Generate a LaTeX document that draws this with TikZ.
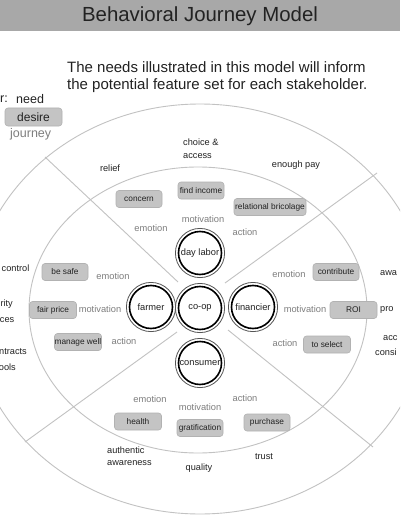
\documentclass[tikz,border=0pt]{standalone}
\usepackage{fontspec}
\setmainfont{Liberation Sans}
\definecolor{titlegray}{HTML}{A8A8A8}
\definecolor{linegray}{HTML}{C2C2C2}
\definecolor{boxfill}{HTML}{C4C4C4}
\definecolor{boxdraw}{HTML}{B2B2B2}
\definecolor{labelgray}{HTML}{7E7E7E}
\definecolor{ink}{HTML}{222222}
\definecolor{ringgray}{HTML}{555555}
\begin{document}
\begin{tikzpicture}[x=1pt,y=-1pt,
  titletext/.style={font=\fontsize{20.4}{22}\selectfont, text=ink, inner sep=0pt},
  subtitle/.style={font=\fontsize{15}{17}\selectfont, text=ink, inner sep=0pt, align=left},
  legend/.style={font=\fontsize{12.5}{14}\selectfont, text=ink, inner sep=0pt},
  needtext/.style={font=\fontsize{9.2}{12.5}\selectfont, text=ink, inner sep=0pt},
  journeylabel/.style={font=\fontsize{9.3}{10}\selectfont, text=labelgray, inner sep=0pt},
  desirebox/.style={fill=boxfill, draw=boxdraw, line width=0.6pt, rounded corners=3pt,
     minimum width=46pt, minimum height=17pt, inner sep=0pt,
     font=\fontsize{8.3}{9}\selectfont, text=ink},
  actor/.style={circle, draw=black, line width=1.6pt, minimum size=43pt, inner sep=0pt,
     font=\fontsize{9.3}{10}\selectfont, text=ink},
  ring/.style={draw=linegray, line width=0.9pt},
  outerring/.style={draw=ringgray, line width=0.8pt}
]
\clip (0,0) rectangle (400,516);
\fill[white] (0,0) rectangle (400,516);
% title bar
\fill[titlegray] (0,0) rectangle (400,31.5);
\node[titletext] (title) at (200,16.5) {Behavioral Journey Model};
\node[subtitle, anchor=west] (intro) at (67,77.5) {The needs illustrated in this model will inform\\the potential feature set for each stakeholder.};
% legend
\node[legend, anchor=east] (keyr) at (8,99) {r:};
\node[legend, anchor=west] (keyneed) at (16,99) {need};
\node[desirebox, font=\fontsize{12}{13}\selectfont, minimum width=57pt, minimum height=18pt] (keydesire) at (33.5,117) {desire};
\node[legend, text=labelgray, anchor=west] (keyjourney) at (10,134) {journey};
% rings
\draw[ring] (200,309) ellipse [x radius=228, y radius=205];
\draw[ring] (198,310) ellipse [x radius=169, y radius=143];
% dividers
\coordinate (ulin) at (178,282); \coordinate (ulout) at (45,157);
\coordinate (urin) at (225,283); \coordinate (urout) at (377,173);
\coordinate (llin) at (177,332); \coordinate (llout) at (25,442);
\coordinate (lrin) at (228,330); \coordinate (lrout) at (373,447);
\draw[ring] (ulin) -- (ulout);
\draw[ring] (urin) -- (urout);
\draw[ring] (llin) -- (llout);
\draw[ring] (lrin) -- (lrout);
% stakeholders
\node[actor] (coop) at (200,308) {co-op};
\node[actor] (day) at (200,253) {day labor};
\node[actor] (farmer) at (151,307) {farmer};
\node[actor] (fin) at (253,307) {financier};
\node[actor] (cons) at (200,363) {consumer};
\foreach \n in {coop,day,farmer,fin,cons} \draw[outerring] (\n.center) circle (24.6);
% needs (outer ring)
\node[needtext] (relief) at (110,168) {relief};
\node[needtext, anchor=west, align=left] (choice) at (183,148.5) {choice \&\\access};
\node[needtext] (pay) at (296,165) {enough pay};
\node[needtext, anchor=east] (control) at (29.5,268) {control};
\node[needtext, anchor=east] (rity) at (13,304) {rity};
\node[needtext, anchor=east] (ces) at (14.5,320) {ces};
\node[needtext, anchor=east] (ntracts) at (27,352) {ntracts};
\node[needtext, anchor=east] (ools) at (16,367) {ools};
\node[needtext, anchor=west] (awa) at (380,273) {awa};
\node[needtext, anchor=west] (pro) at (380,310) {pro};
\node[needtext, anchor=west] (acc) at (383,338) {acc};
\node[needtext, anchor=west] (consi) at (375,352) {consi};
\node[needtext, anchor=west, align=left, font=\fontsize{9.2}{12}\selectfont] (auth) at (107,456) {authentic\\awareness};
\node[needtext] (quality) at (199,468) {quality};
\node[needtext] (trust) at (264,457) {trust};
% journey labels
\node[journeylabel] (temo) at (151,228) {emotion};
\node[journeylabel] (tmot) at (203,219) {motivation};
\node[journeylabel] (tact) at (245,232) {action};
\node[journeylabel] (lemo) at (113,276) {emotion};
\node[journeylabel] (lmot) at (100,309) {motivation};
\node[journeylabel] (lact) at (124,341) {action};
\node[journeylabel] (remo) at (289,274) {emotion};
\node[journeylabel] (rmot) at (305,309) {motivation};
\node[journeylabel] (ract) at (285,343) {action};
\node[journeylabel] (bemo) at (150,399) {emotion};
\node[journeylabel] (bmot) at (200,407) {motivation};
\node[journeylabel] (bact) at (245,398) {action};
% desires
\node[desirebox] (concern) at (139,199) {concern};
\node[desirebox] (income) at (201,190.5) {find income};
\node[desirebox, minimum width=72pt] (bricolage) at (270,207) {relational bricolage};
\node[desirebox] (safe) at (65,272) {be safe};
\node[desirebox, minimum width=47pt] (fair) at (53,310) {fair price};
\node[desirebox, minimum width=47pt] (manage) at (78,342) {manage well};
\node[desirebox] (contribute) at (336,272) {contribute};
\node[desirebox, minimum width=47pt] (roi) at (353.5,310) {ROI};
\node[desirebox, minimum width=47pt] (select) at (327,344.5) {to select};
\node[desirebox, minimum width=47pt] (health) at (138,421.5) {health};
\node[desirebox] (grat) at (200,428) {gratification};
\node[desirebox] (purchase) at (267,422.5) {purchase};
\end{tikzpicture}
\end{document}
